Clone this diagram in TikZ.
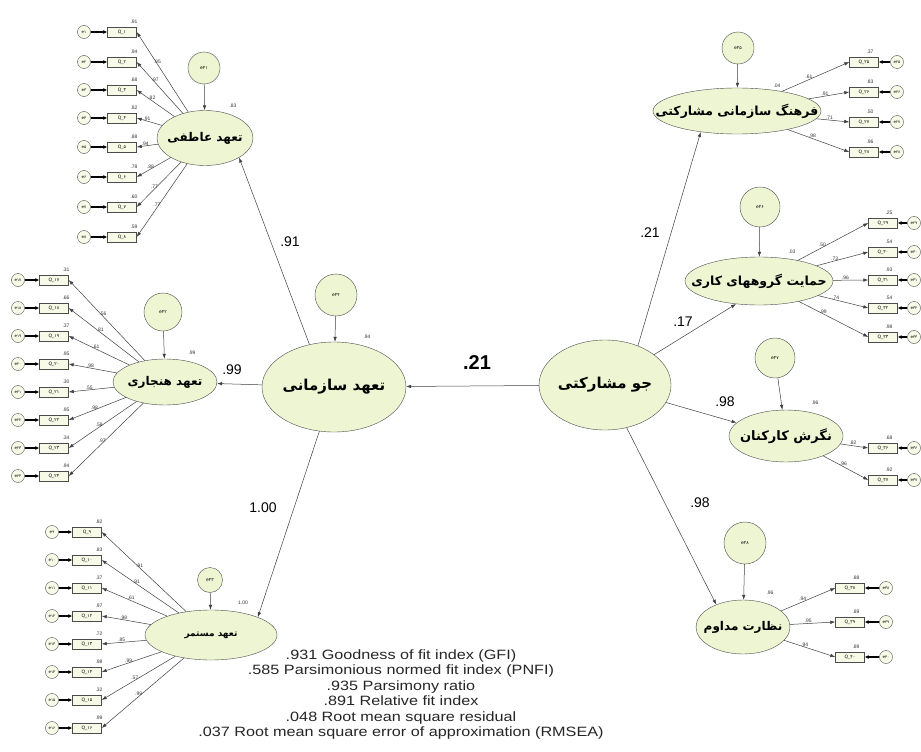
\documentclass[tikz,border=0pt]{standalone}
\usepackage{fontspec}
\setmainfont{Liberation Sans}
\newfontfamily\fafont[Script=Arabic]{DejaVu Sans}
\TeXXeTstate=1
\usetikzlibrary{arrows.meta,shapes.geometric}
\definecolor{latfill}{RGB}{238,245,210}
\definecolor{boxfill}{RGB}{247,250,230}
\newcommand{\fatext}[1]{\makebox[0pt]{\beginR #1\endR}}
\tikzset{
  latent/.style={ellipse, draw=black!70, fill=latfill, inner sep=0pt, font=\fafont\bfseries\fontsize{12}{12}\selectfont},
  item/.style={draw=black!70, fill=boxfill, minimum width=29pt, minimum height=10pt, inner sep=0pt, font=\fafont\fontsize{4.5}{4.5}\selectfont},
  err/.style={circle, draw=black!70, fill=boxfill, minimum size=13pt, inner sep=0pt, font=\fafont\fontsize{4}{4}\selectfont},
  dist/.style={circle, draw=black!70, fill=latfill, inner sep=0pt, font=\fafont\fontsize{4.5}{4.5}\selectfont},
  lab/.style={font=\fontsize{5}{5}\selectfont, inner sep=0.5pt, text=black!80},
  coef/.style={font=\fontsize{14}{14}\selectfont, inner sep=0pt},
  link/.style={draw=black!75, line width=0.5pt, -{Latex[length=5pt,width=3.5pt]}},
  errlink/.style={draw=black, line width=1.4pt, -{Latex[length=4pt,width=4pt]}}
}
\begin{document}
\begin{tikzpicture}[x=1pt,y=-1pt]
\useasboundingbox[fill=white] (0,0) rectangle (921,752);

\node[latent, minimum width=144pt, minimum height=90pt, font=\fafont\bfseries\fontsize{15}{15}\selectfont] (sazmani) at (334,387) {\fatext{تعهد سازمانی}};
\node[latent, minimum width=132pt, minimum height=90pt, font=\fafont\bfseries\fontsize{15}{15}\selectfont] (jav) at (605,385) {\fatext{جو مشارکتی}};
\node[latent, minimum width=96pt, minimum height=55pt] (atefi) at (205,138) {\fatext{تعهد عاطفی}};
\node[latent, minimum width=104pt, minimum height=46pt] (hanjari) at (165,382) {\fatext{تعهد هنجاری}};
\node[latent, minimum width=132pt, minimum height=50pt, font=\fafont\bfseries\fontsize{9}{9}\selectfont] (mostamar) at (211,635) {\fatext{تعهد مستمر}};
\node[latent, minimum width=168pt, minimum height=46pt, font=\fafont\bfseries\fontsize{12.5}{12.5}\selectfont] (farhang) at (737,111) {\fatext{فرهنگ سازمانی مشارکتی}};
\node[latent, minimum width=148pt, minimum height=48pt, font=\fafont\bfseries\fontsize{12.5}{12.5}\selectfont] (hemayat) at (759,281) {\fatext{حمایت گروههای کاری}};
\node[latent, minimum width=114pt, minimum height=52pt, font=\fafont\bfseries\fontsize{13}{13}\selectfont] (negaresh) at (786,436) {\fatext{نگرش کارکنان}};
\node[latent, minimum width=94pt, minimum height=54pt, font=\fafont\bfseries\fontsize{12}{12}\selectfont] (nezarat) at (743,627) {\fatext{نظارت مداوم}};

\node[dist, minimum size=42pt] (dsazmani) at (336,295) {e۴۴};
\node[dist, minimum size=32pt] (datefi) at (204,68) {e۴۱};
\node[dist, minimum size=38pt] (dhanjari) at (163,312) {e۴۲};
\node[dist, minimum size=25pt] (dmostamar) at (210,580) {e۴۳};
\node[dist, minimum size=32pt] (dfarhang) at (738,48) {e۴۵};
\node[dist, minimum size=40pt] (dhemayat) at (760,207) {e۴۶};
\node[dist, minimum size=40pt] (dnegaresh) at (775,358) {e۴۷};
\node[dist, minimum size=42pt] (dnezarat) at (745,543) {e۴۸};
\foreach \f in {sazmani,atefi,hanjari,mostamar,farhang,hemayat,negaresh,nezarat}
  \draw[link] (d\f) -- (\f);

\node[lab] (rsazmani) at (367,337) {.94};
\node[lab] (ratefi) at (233,106) {.83};
\node[lab] (rhanjari) at (192,353) {.99};
\node[lab] (rmostamar) at (243,603) {1.00};
\node[lab] (rfarhang) at (777,86) {.04};
\node[lab] (rhemayat) at (792,252) {.03};
\node[lab] (rnegaresh) at (815,403) {.96};
\node[lab] (rnezarat) at (770,593) {.96};

\draw[link] (jav) -- (sazmani);
\draw[link] (sazmani.120) -- (atefi.south east);
\draw[link] (sazmani) -- (hanjari);
\draw[link] (sazmani) -- (mostamar.north east);
\draw[link] (jav.50) -- (farhang.210);
\draw[link] (jav) -- (hemayat.225);
\draw[link] (jav) -- (negaresh.165);
\draw[link] (jav) -- (nezarat.140);

\node[coef, font=\bfseries\fontsize{20}{20}\selectfont] (c21) at (477,363) {.21};
\node[coef] (c91) at (290,242) {.91};
\node[coef] (c99) at (232,370) {.99};
\node[coef] (c100) at (263,508) {1.00};
\node[coef] (cfar) at (650,233) {.21};
\node[coef] (chem) at (683,322) {.17};
\node[coef] (cneg) at (725,402) {.98};
\node[coef] (cnez) at (700,503) {.98};

\foreach \k/\n/\y/\rr/\ld in {1/۱/32/.91/.95, 2/۲/62/.94/.97, 3/۳/90/.68/.82, 4/۴/118/.82/.91,
    5/۵/147/.88/.94, 6/۶/177/.78/.88, 7/۷/207/.60/.77, 8/۸/237/.59/.77} {
  \node[item] (qa\k) at (122,\y) {Q\_\n};
  \node[err] (ea\k) at (84,\y) {e\n};
  \node[lab] (ra\k) at (134,{\y-10}) {\rr};
  \draw[errlink] (ea\k) -- (qa\k);
  \draw[link] (atefi) -- node[lab, pos=0.6, above] {\ld} (qa\k.east);
}
\foreach \k/\n/\y/\rr/\ld in {1/۱۷/280/.31/.56, 2/۱۸/308/.66/.81, 3/۱۹/336/.37/.61, 4/۲۰/364/.95/.98,
    5/۲۱/392/.30/.55, 6/۲۲/420/.95/.98, 7/۲۳/448/.34/.58, 8/۲۴/476/.94/.97} {
  \node[item] (qb\k) at (54,\y) {Q\_\n};
  \node[err] (eb\k) at (18,\y) {e\n};
  \node[lab] (rb\k) at (66,{\y-10}) {\rr};
  \draw[errlink] (eb\k) -- (qb\k);
  \draw[link] (hanjari) -- node[lab, pos=0.55, above] {\ld} (qb\k.east);
}
\foreach \k/\n/\y/\rr/\ld in {1/۹/532/.82/.91, 2/۱۰/560/.83/.91, 3/۱۱/588/.37/.61, 4/۱۲/616/.97/.98,
    5/۱۳/644/.72/.85, 6/۱۴/672/.98/.99, 7/۱۵/700/.32/.57, 8/۱۶/728/.99/.99} {
  \node[item] (qc\k) at (87,\y) {Q\_\n};
  \node[err] (ec\k) at (52,\y) {e\n};
  \node[lab] (rc\k) at (99,{\y-10}) {\rr};
  \draw[errlink] (ec\k) -- (qc\k);
  \draw[link] (mostamar) -- node[lab, pos=0.55, above] {\ld} (qc\k.east);
}
\foreach \k/\n/\y/\rr/\ld in {1/۲۵/62/.37/.61, 2/۲۶/92/.83/.91, 3/۲۷/122/.50/.71, 4/۲۸/152/.96/.98} {
  \node[item] (qd\k) at (864,\y) {Q\_\n};
  \node[err] (ed\k) at (897,\y) {e\n};
  \node[lab] (rd\k) at (870,{\y-10}) {\rr};
  \draw[errlink] (ed\k) -- (qd\k);
  \draw[link] (farhang) -- node[lab, pos=0.4, above] {\ld} (qd\k.west);
}
\foreach \k/\n/\y/\rr/\ld in {1/۲۹/223/.25/.50, 2/۳۰/252/.54/.73, 3/۳۱/280/.93/.96, 4/۳۲/308/.54/.74, 5/۳۳/337/.98/.99} {
  \node[item] (qe\k) at (883,\y) {Q\_\n};
  \node[err] (ee\k) at (914,\y) {e\n};
  \node[lab] (re\k) at (889,{\y-10}) {\rr};
  \draw[errlink] (ee\k) -- (qe\k);
  \draw[link] (hemayat) -- node[lab, pos=0.35, above] {\ld} (qe\k.west);
}
\foreach \k/\n/\y/\rr/\ld in {1/۳۶/448/.68/.82, 2/۳۷/480/.92/.96} {
  \node[item] (qf\k) at (883,\y) {Q\_\n};
  \node[err] (ef\k) at (914,\y) {e\n};
  \node[lab] (rf\k) at (889,{\y-10}) {\rr};
  \draw[errlink] (ef\k) -- (qf\k);
  \draw[link] (negaresh) -- node[lab, pos=0.45, above] {\ld} (qf\k.west);
}
\foreach \k/\n/\y/\rr/\ld in {1/۳۸/588/.88/.94, 2/۳۹/622/.89/.95, 3/۴۰/657/.89/.94} {
  \node[item] (qg\k) at (850,\y) {Q\_\n};
  \node[err] (eg\k) at (886,\y) {e\n};
  \node[lab] (rg\k) at (856,{\y-10}) {\rr};
  \draw[errlink] (eg\k) -- (qg\k);
  \draw[link] (nezarat) -- node[lab, pos=0.4, above] {\ld} (qg\k.west);
}

\node[inner sep=0pt, text=black!85] (fitidx) at (401,695) {\scalebox{1.2}[1]{\fontsize{13.5}{15.5}\selectfont
  \begin{tabular}{@{}c@{}}
  .931 Goodness of fit index (GFI)\\
  .585 Parsimonious normed fit index (PNFI)\\
  .935 Parsimony ratio\\
  .891 Relative fit index\\
  .048 Root mean square residual\\
  .037 Root mean square error of approximation (RMSEA)
  \end{tabular}}};
\end{tikzpicture}
\end{document}
